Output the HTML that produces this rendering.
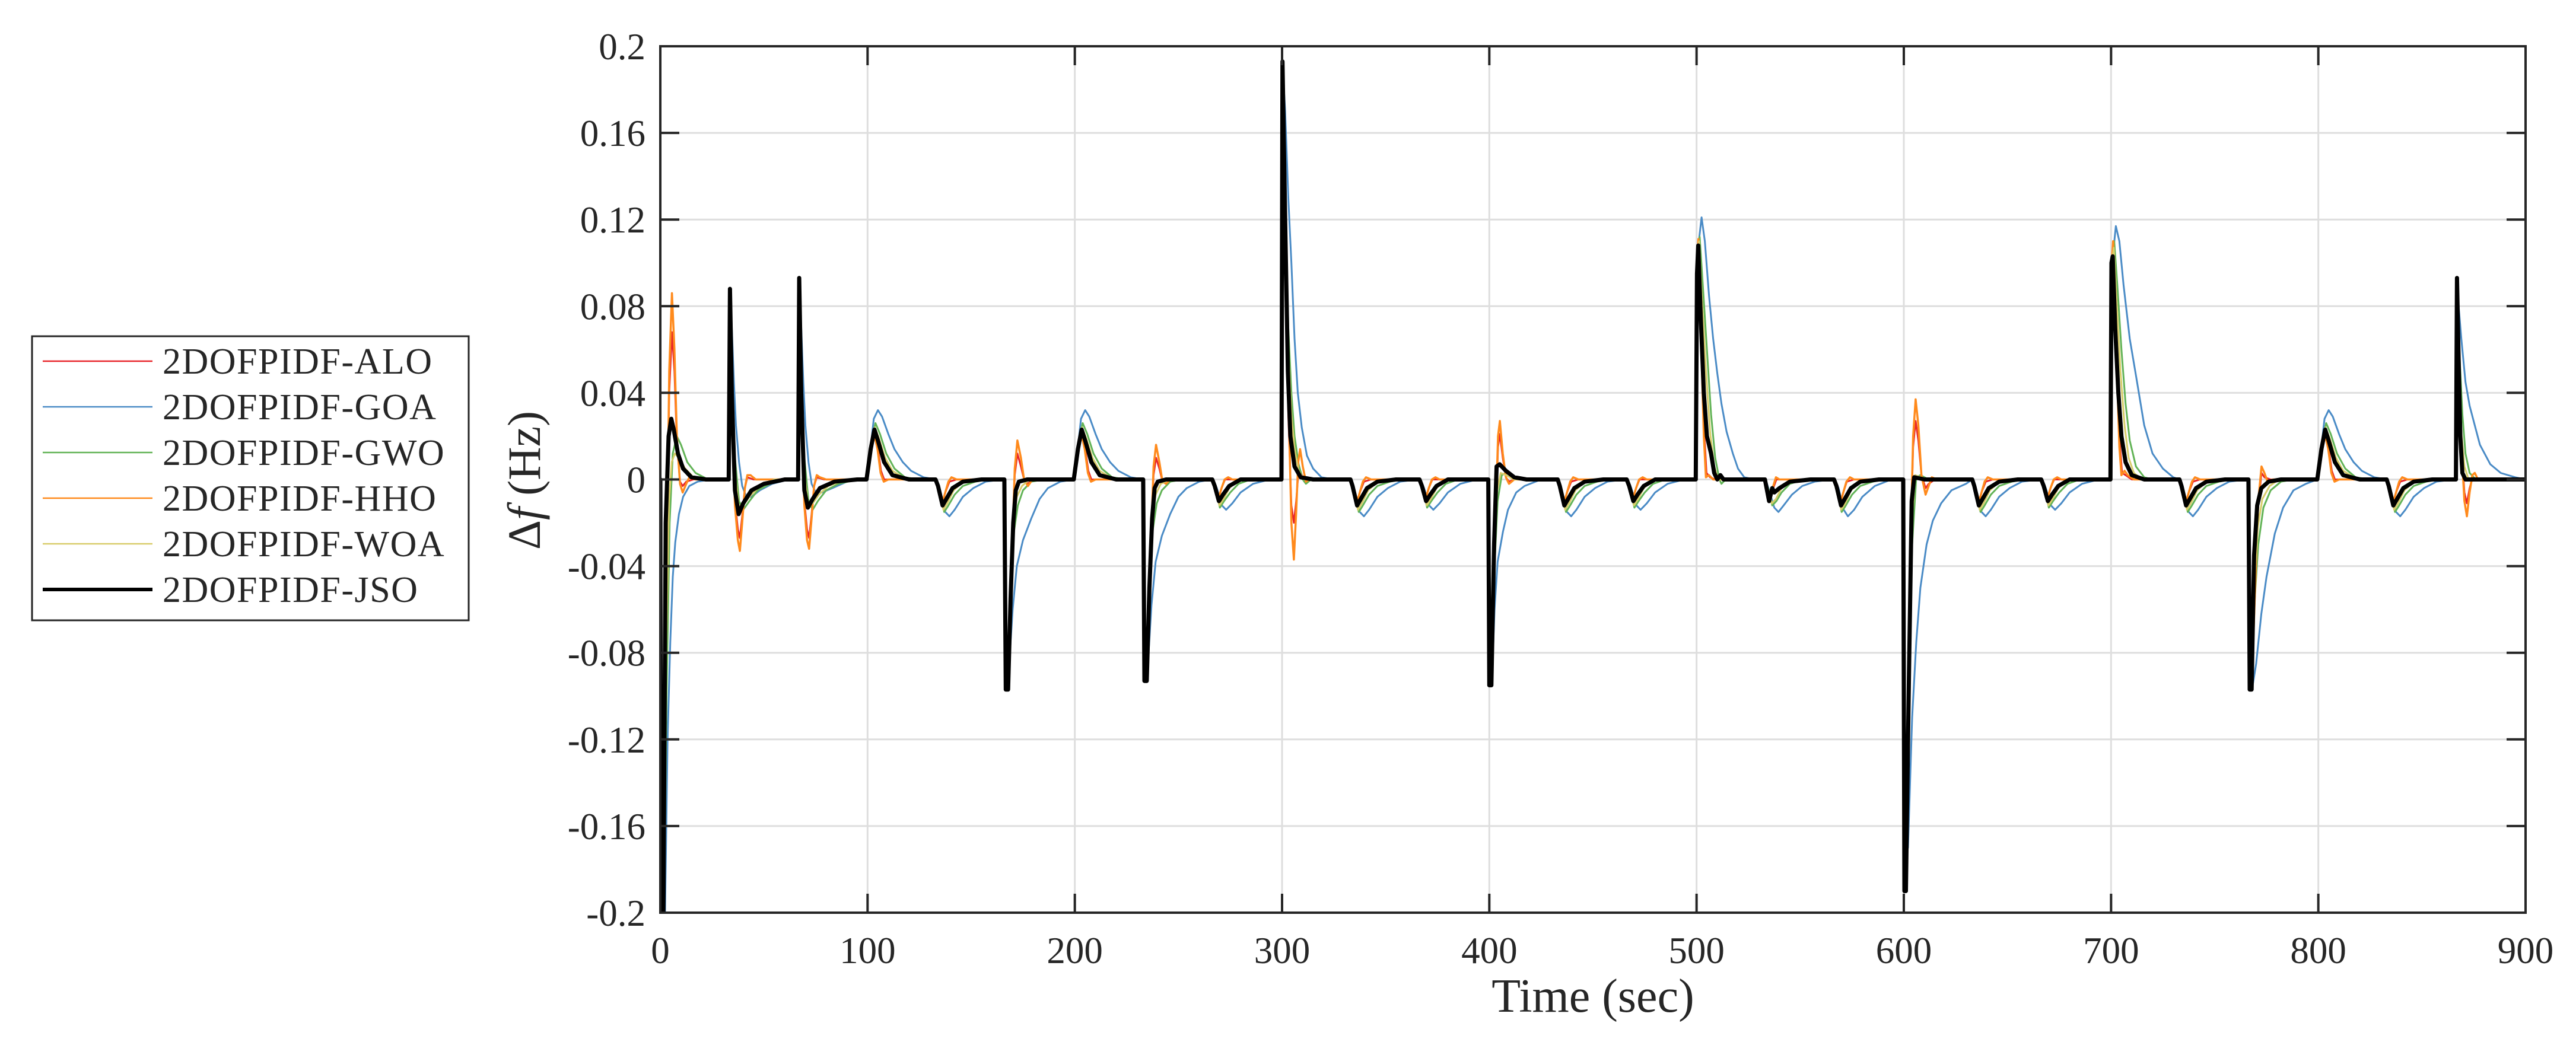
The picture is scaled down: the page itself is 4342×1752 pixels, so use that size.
<!DOCTYPE html>
<html>
<head>
<meta charset="utf-8">
<style>
  html,body{margin:0;padding:0;background:#fff;}
  svg{display:block;}
  text{font-family:"Liberation Serif","DejaVu Serif",serif;fill:#262626;}
</style>
</head>
<body>
<svg id="chart" xmlns="http://www.w3.org/2000/svg" width="4342" height="1752" viewBox="0 0 4342 1752">
  <rect x="0" y="0" width="4342" height="1752" fill="#fff"/>
  <defs><clipPath id="plotclip"><rect x="1113" y="78" width="3144" height="1461"/></clipPath></defs>
  <g id="grid"></g>
  <g id="series" clip-path="url(#plotclip)"></g>
  <g id="axes"></g>
  <text transform="translate(910,810) rotate(-90)" text-anchor="middle" font-size="78">Δ<tspan font-style="italic">f</tspan> (Hz)</text>
  <text x="2685" y="1706" text-anchor="middle" font-size="80">Time (sec)</text>
  <g>
    <rect x="54" y="567" width="736" height="479" fill="#fff" stroke="#262626" stroke-width="3"/>
    <g><line x1="72" y1="609" x2="257" y2="609" stroke="#E8262A" stroke-width="2.5"/><text x="274" y="630" font-size="62" letter-spacing="1.5">2DOFPIDF-ALO</text></g>
    <g><line x1="72" y1="686" x2="257" y2="686" stroke="#4A8BC6" stroke-width="2.5"/><text x="274" y="707" font-size="62" letter-spacing="1.5">2DOFPIDF-GOA</text></g>
    <g><line x1="72" y1="763" x2="257" y2="763" stroke="#62B356" stroke-width="2.5"/><text x="274" y="784" font-size="62" letter-spacing="1.5">2DOFPIDF-GWO</text></g>
    <g><line x1="72" y1="840" x2="257" y2="840" stroke="#FF8A1C" stroke-width="2.5"/><text x="274" y="861" font-size="62" letter-spacing="1.5">2DOFPIDF-HHO</text></g>
    <g><line x1="72" y1="917" x2="257" y2="917" stroke="#D8CC6A" stroke-width="2.5"/><text x="274" y="938" font-size="62" letter-spacing="1.5">2DOFPIDF-WOA</text></g>
    <g><line x1="72" y1="994" x2="257" y2="994" stroke="#000" stroke-width="6"/><text x="274" y="1015" font-size="62" letter-spacing="1.5">2DOFPIDF-JSO</text></g>
  </g>
</svg>
<script>
const xTicks = [0,100,200,300,400,500,600,700,800,900];
const yTicks = [0.2,0.16,0.12,0.08,0.04,0,-0.04,-0.08,-0.12,-0.16,-0.2];
const yTickLabels = ["0.2","0.16","0.12","0.08","0.04","0","-0.04","-0.08","-0.12","-0.16","-0.2"];
const seriesNames = ["ALO","GOA","GWO","HHO","WOA","JSO"];

const dataJSO = [[0,0],[0.3,-0.2],[1.5,-0.2],[2.6,-0.02],[4,0.02],[5.3,0.028],[6.5,0.023],[8.5,0.012],[11,0.005],[15,0.001],[22,0],
[33,0],[33.6,0.088],[34.5,0.04],[36,-0.005],[37.8,-0.016],[40,-0.011],[44,-0.005],[50,-0.002],[60,0],
[66.5,0],[67,0.093],[68,0.04],[69.5,-0.005],[71.2,-0.013],[73.5,-0.009],[77,-0.004],[84,-0.001],[95,0],
[99.5,0],[101.5,0.014],[103.3,0.023],[105,0.018],[108,0.008],[112,0.002],[120,0],
[132.8,0],[134,-0.003],[136.2,-0.012],[138,-0.009],[141,-0.004],[146,-0.001],[155,0],
[166,0],[166.7,-0.097],[167.8,-0.097],[169,-0.055],[170.3,-0.02],[171.5,-0.005],[173,-0.001],[177,0],
[199.5,0],[201.5,0.014],[203.3,0.023],[205,0.018],[208,0.008],[212,0.002],[220,0],
[233,0],[233.6,-0.093],[234.7,-0.093],[236,-0.05],[237.3,-0.018],[238.5,-0.004],[240,-0.001],[244,0],
[266.3,0],[267.5,-0.003],[269.5,-0.01],[271.5,-0.007],[274.5,-0.003],[280,0],
[299.7,0],[300.2,0.193],[301.5,0.12],[302.8,0.05],[304,0.02],[306,0.006],[309,0.001],[315,0],
[333,0],[334,-0.003],[336.2,-0.012],[338,-0.009],[341,-0.004],[346,-0.001],[355,0],
[366.3,0],[367.5,-0.003],[369.5,-0.01],[371.5,-0.007],[374.5,-0.003],[380,0],
[399.5,0],[400,-0.095],[401,-0.095],[402.3,-0.03],[403.5,0.006],[405,0.007],[408,0.004],[412,0.001],[418,0],
[433,0],[434,-0.003],[436.2,-0.012],[438,-0.009],[441,-0.004],[446,-0.001],[455,0],
[466.3,0],[467.5,-0.003],[469.5,-0.01],[471.5,-0.007],[474.5,-0.003],[480,0],
[499.6,0],[500.2,0.095],[500.8,0.108],[502,0.075],[503.5,0.04],[505,0.02],[507,0.012],[508.5,0.003],[510,0],[511.5,0.002],[513,0],
[533,0],[535,-0.01],[536.5,-0.004],[537.5,-0.006],[540,-0.004],[545,-0.001],[555,0],
[566.3,0],[567.5,-0.003],[569.7,-0.012],[571.5,-0.009],[574.5,-0.004],[579,-0.001],[588,0],
[599.7,0],[600.3,-0.19],[601,-0.19],[602.5,-0.09],[603.8,-0.01],[605,0.001],[610,0],
[633,0],[634,-0.003],[636.2,-0.012],[638,-0.009],[641,-0.004],[646,-0.001],[655,0],
[666.3,0],[667.5,-0.003],[669.5,-0.01],[671.5,-0.007],[674.5,-0.003],[680,0],
[699.7,0],[700.2,0.1],[700.8,0.103],[702,0.07],[703.5,0.04],[705,0.02],[707,0.008],[710,0.002],[716,0],
[733,0],[734,-0.003],[736.2,-0.012],[738,-0.009],[741,-0.004],[746,-0.001],[755,0],
[766.3,0],[766.9,-0.097],[767.8,-0.097],[769,-0.035],[770.5,-0.012],[772.5,-0.004],[776,-0.001],[782,0],
[799.5,0],[801.5,0.014],[803.3,0.023],[805,0.018],[808,0.008],[812,0.002],[820,0],
[833,0],[834,-0.003],[836.2,-0.012],[838,-0.009],[841,-0.004],[846,-0.001],[855,0],
[866.4,0],[866.9,0.093],[867.6,0.06],[868.5,0.02],[869.5,0.003],[871,0],[900,0]];

const dataGOA = [[0,0],[0.3,-0.2],[2.3,-0.2],[3.5,-0.12],[4.8,-0.075],[6,-0.045],[7.2,-0.029],[9,-0.016],[11,-0.008],[14,-0.003],[18,-0.001],[24,0],
[33,0],[33.7,0.088],[34.5,0.07],[35.5,0.045],[36.5,0.025],[38,0.008],[39.5,-0.003],[41.5,-0.008],[44,-0.008],[48,-0.005],[54,-0.002],[62,0],
[66.5,0],[67.1,0.093],[68,0.07],[69,0.045],[70,0.025],[71.5,0.008],[73,-0.002],[75,-0.006],[78,-0.006],[83,-0.004],[90,-0.001],[98,0],
[99.5,0],[101.5,0.015],[103,0.028],[105,0.032],[107,0.029],[110,0.021],[113,0.014],[117,0.008],[121,0.004],[127,0.001],[133,0],
[133.3,0],[135,-0.005],[137.5,-0.015],[139.5,-0.017],[142,-0.014],[146,-0.008],[151,-0.004],[157,-0.001],[165,0],
[166.1,0],[166.7,-0.09],[168,-0.09],[170,-0.06],[172,-0.04],[175,-0.028],[179,-0.018],[183,-0.009],[187,-0.004],[193,-0.001],[199.5,0],
[199.6,0],[201.5,0.015],[203,0.028],[205,0.032],[207,0.029],[210,0.021],[213,0.014],[217,0.008],[221,0.004],[227,0.001],[233,0],
[233.3,0],[233.9,-0.086],[235.2,-0.086],[237,-0.058],[239,-0.038],[242,-0.026],[246,-0.016],[250,-0.008],[254,-0.004],[260,-0.001],[266,0],
[266.7,0],[268.5,-0.004],[271,-0.012],[273,-0.014],[276,-0.011],[280,-0.006],[286,-0.002],[294,0],
[299.7,0],[300.3,0.19],[301.5,0.17],[303,0.13],[304.5,0.1],[306,0.065],[307.6,0.04],[309.5,0.024],[312,0.011],[315,0.005],[319,0.001],[325,0],
[333.3,0],[335,-0.005],[337.5,-0.015],[339.5,-0.017],[342,-0.014],[346,-0.008],[351,-0.004],[357,-0.001],[365,0],
[366.7,0],[368.5,-0.004],[371,-0.012],[373,-0.014],[376,-0.011],[380,-0.006],[386,-0.002],[394,0],
[399.7,0],[400.3,-0.095],[401.2,-0.095],[402.5,-0.06],[404,-0.038],[406.6,-0.024],[409,-0.014],[413,-0.006],[417,-0.003],[425,0],
[433.3,0],[435,-0.005],[437.5,-0.015],[439.5,-0.017],[442,-0.014],[446,-0.008],[451,-0.004],[457,-0.001],[465,0],
[466.7,0],[468.5,-0.004],[471,-0.012],[473,-0.014],[476,-0.011],[480,-0.006],[486,-0.002],[494,0],
[499.6,0],[500.5,0.105],[502.4,0.121],[504,0.11],[506,0.085],[508,0.065],[510,0.049],[512,0.035],[514.5,0.022],[517.5,0.012],[520,0.005],[523,0.001],[528,0],
[533.3,0],[535,-0.005],[537.5,-0.013],[539.5,-0.015],[542,-0.012],[546,-0.007],[551,-0.003],[557,-0.001],[565,0],
[566.7,0],[568.5,-0.004],[571,-0.014],[573,-0.017],[576,-0.014],[580,-0.008],[586,-0.003],[594,0],
[599.7,0],[600.3,-0.17],[602,-0.17],[604,-0.11],[606,-0.075],[608,-0.05],[611,-0.03],[614,-0.019],[618,-0.011],[623,-0.005],[630,-0.002],[633,0],
[633.3,0],[635,-0.005],[637.5,-0.015],[639.5,-0.017],[642,-0.014],[646,-0.008],[651,-0.004],[657,-0.001],[665,0],
[666.7,0],[668.5,-0.004],[671,-0.012],[673,-0.014],[676,-0.011],[680,-0.006],[686,-0.002],[694,0],
[699.7,0],[700.5,0.1],[702.3,0.117],[704,0.11],[706,0.09],[709,0.065],[712,0.048],[716,0.025],[720,0.012],[725,0.005],[730,0.001],[733,0],
[733.3,0],[735,-0.005],[737.5,-0.015],[739.5,-0.017],[742,-0.014],[746,-0.008],[751,-0.004],[757,-0.001],[765,0],
[766.3,0],[767,-0.09],[768,-0.097],[770,-0.085],[772.5,-0.062],[775,-0.045],[779,-0.025],[783,-0.013],[788,-0.005],[794,-0.002],[799.5,0],
[799.6,0],[801.5,0.015],[803,0.028],[805,0.032],[807,0.029],[810,0.021],[813,0.014],[817,0.008],[821,0.004],[827,0.001],[833,0],
[833.3,0],[835,-0.005],[837.5,-0.015],[839.5,-0.017],[842,-0.014],[846,-0.008],[851,-0.004],[857,-0.001],[865,0],
[866.4,0],[867,0.088],[869,0.065],[871,0.045],[873,0.034],[875.2,0.026],[878,0.016],[883,0.007],[888,0.003],[895,0.001],[900,0]];

const dataGWO = [[0,0],[0.3,-0.2],[1.8,-0.2],[3,-0.1],[4.5,-0.02],[6,0.012],[8,0.02],[10,0.016],[13,0.008],[17,0.003],[23,0],
[33,0],[33.6,0.088],[34.5,0.05],[36,0.01],[38,-0.01],[40,-0.014],[43,-0.01],[47,-0.005],[53,-0.002],[60,0],
[66.5,0],[67,0.093],[68,0.05],[69.5,0.01],[71.5,-0.01],[73.5,-0.014],[76,-0.01],[80,-0.005],[86,-0.002],[95,0],
[99.5,0],[101.7,0.017],[103.8,0.026],[106,0.021],[109,0.012],[113,0.005],[118,0.001],[125,0],
[133,0],[134.5,-0.004],[137,-0.015],[139,-0.012],[142,-0.007],[146,-0.003],[152,-0.001],[158,0],
[166,0],[166.7,-0.097],[167.7,-0.097],[169,-0.05],[170.5,-0.025],[172.5,-0.012],[175,-0.005],[179,-0.001],[185,0],
[199.5,0],[201.7,0.017],[203.8,0.026],[206,0.021],[209,0.012],[213,0.005],[218,0.001],[225,0],
[233,0],[233.6,-0.093],[234.6,-0.093],[236,-0.048],[237.5,-0.024],[239.5,-0.011],[242,-0.005],[246,-0.001],[252,0],
[266.3,0],[267.8,-0.004],[270,-0.013],[272,-0.01],[275,-0.006],[279,-0.002],[285,0],
[299.7,0],[300.2,0.193],[301.5,0.13],[303,0.07],[304.5,0.04],[306,0.02],[308,0.007],[310,0],[311.5,-0.002],[314,0],
[333,0],[334.5,-0.004],[337,-0.015],[339,-0.012],[342,-0.007],[346,-0.003],[352,-0.001],[358,0],
[366.3,0],[367.8,-0.004],[370,-0.013],[372,-0.01],[375,-0.006],[379,-0.002],[385,0],
[399.7,0],[400.2,-0.095],[401,-0.095],[402.5,-0.04],[404,-0.01],[406,0.002],[408,0.003],[412,0.001],[418,0],
[433,0],[434.5,-0.004],[437,-0.015],[439,-0.012],[442,-0.007],[446,-0.003],[452,-0.001],[458,0],
[466.3,0],[467.8,-0.004],[470,-0.013],[472,-0.01],[475,-0.006],[479,-0.002],[485,0],
[499.6,0],[500.3,0.1],[501.5,0.112],[503,0.09],[505,0.06],[507,0.03],[509,0.01],[511,0],[512,-0.002],[514,0],
[533,0],[534.5,-0.004],[536.5,-0.012],[538.5,-0.01],[541,-0.006],[545,-0.002],[552,0],
[566.3,0],[567.8,-0.004],[570,-0.015],[572,-0.012],[575,-0.007],[579,-0.003],[585,-0.001],[590,0],
[599.7,0],[600.3,-0.19],[601.2,-0.19],[602.5,-0.09],[604,-0.03],[606,0.001],[608,0.002],[612,0],
[633,0],[634.5,-0.004],[637,-0.015],[639,-0.012],[642,-0.007],[646,-0.003],[652,-0.001],[658,0],
[666.3,0],[667.8,-0.004],[670,-0.013],[672,-0.01],[675,-0.006],[679,-0.002],[685,0],
[699.7,0],[700.4,0.1],[701.5,0.11],[703,0.09],[705,0.06],[707,0.035],[709,0.018],[712,0.006],[716,0.001],[720,0],
[733,0],[734.5,-0.004],[737,-0.015],[739,-0.012],[742,-0.007],[746,-0.003],[752,-0.001],[758,0],
[766.3,0],[766.9,-0.097],[767.8,-0.097],[769,-0.06],[771,-0.03],[773.5,-0.013],[777,-0.005],[782,-0.001],[788,0],
[799.5,0],[801.7,0.017],[803.8,0.026],[806,0.021],[809,0.012],[813,0.005],[818,0.001],[825,0],
[833,0],[834.5,-0.004],[837,-0.015],[839,-0.012],[842,-0.007],[846,-0.003],[852,-0.001],[858,0],
[866.4,0],[866.9,0.093],[868,0.06],[869.5,0.03],[871,0.012],[873,0.003],[876,0],[900,0]];

const dataWOA = [[0,0],[0.3,-0.2],[1.6,-0.2],[2.8,-0.08],[4.2,-0.01],[5.5,0.008],[7,0.012],[9,0.01],[12,0.005],[16,0.001],[22,0],
[33,0],[33.6,0.088],[34.5,0.045],[36,0.003],[37.8,-0.012],[40,-0.012],[43,-0.008],[48,-0.003],[55,0],
[66.5,0],[67,0.093],[68,0.045],[69.5,0.003],[71.3,-0.012],[73.5,-0.011],[76.5,-0.007],[81,-0.003],[90,0],
[99.5,0],[101.6,0.016],[103.5,0.024],[105.5,0.019],[108.5,0.01],[112,0.004],[117,0.001],[123,0],
[133,0],[134.3,-0.004],[136.6,-0.014],[138.5,-0.011],[141.5,-0.005],[145,-0.002],[151,0],
[166,0],[166.7,-0.097],[167.7,-0.097],[169,-0.05],[170.4,-0.02],[172,-0.008],[174.5,-0.003],[178,0],
[199.5,0],[201.6,0.016],[203.5,0.024],[205.5,0.019],[208.5,0.01],[212,0.004],[217,0.001],[223,0],
[233,0],[233.6,-0.093],[234.6,-0.093],[236,-0.045],[237.4,-0.018],[239,-0.007],[241.5,-0.002],[246,0],
[266.3,0],[267.6,-0.004],[269.8,-0.012],[271.8,-0.009],[274.5,-0.004],[278,-0.001],[283,0],
[299.7,0],[300.2,0.193],[301.5,0.125],[303,0.06],[304.5,0.03],[306,0.014],[308,0.004],[310.5,0],[315,0],
[333,0],[334.3,-0.004],[336.6,-0.014],[338.5,-0.011],[341.5,-0.005],[345,-0.002],[351,0],
[366.3,0],[367.6,-0.004],[369.8,-0.012],[371.8,-0.009],[374.5,-0.004],[378,-0.001],[383,0],
[399.7,0],[400.2,-0.095],[401,-0.095],[402.4,-0.035],[403.8,-0.005],[405.5,0.003],[408,0.002],[412,0],
[433,0],[434.3,-0.004],[436.6,-0.014],[438.5,-0.011],[441.5,-0.005],[445,-0.002],[451,0],
[466.3,0],[467.6,-0.004],[469.8,-0.012],[471.8,-0.009],[474.5,-0.004],[478,-0.001],[483,0],
[499.6,0],[500.3,0.1],[501.2,0.11],[502.5,0.085],[504.5,0.05],[506.5,0.022],[508.5,0.006],[510.5,0],[514,0],
[533,0],[534.3,-0.004],[536.3,-0.011],[538.3,-0.009],[541,-0.004],[545,-0.001],[550,0],
[566.3,0],[567.6,-0.004],[569.8,-0.014],[571.8,-0.011],[574.5,-0.005],[578,-0.002],[584,0],
[599.7,0],[600.3,-0.19],[601.1,-0.19],[602.5,-0.08],[603.8,-0.02],[605.5,0.002],[608,0.001],[612,0],
[633,0],[634.3,-0.004],[636.6,-0.014],[638.5,-0.011],[641.5,-0.005],[645,-0.002],[651,0],
[666.3,0],[667.6,-0.004],[669.8,-0.012],[671.8,-0.009],[674.5,-0.004],[678,-0.001],[683,0],
[699.7,0],[700.3,0.1],[701.3,0.107],[702.8,0.08],[704.5,0.05],[706.5,0.025],[708.5,0.01],[711,0.003],[715,0],
[733,0],[734.3,-0.004],[736.6,-0.014],[738.5,-0.011],[741.5,-0.005],[745,-0.002],[751,0],
[766.3,0],[766.9,-0.097],[767.8,-0.097],[769,-0.05],[770.8,-0.022],[773,-0.009],[776.5,-0.003],[781,0],
[799.5,0],[801.6,0.016],[803.5,0.024],[805.5,0.019],[808.5,0.01],[812,0.004],[817,0.001],[823,0],
[833,0],[834.3,-0.004],[836.6,-0.014],[838.5,-0.011],[841.5,-0.005],[845,-0.002],[851,0],
[866.4,0],[866.9,0.093],[867.8,0.055],[869,0.022],[870.5,0.006],[872.5,0],[900,0]];

const dataHHO = [[0,0],[0.3,-0.2],[1.5,-0.2],[3,-0.05],[4.3,0.05],[5.6,0.086],[6.8,0.06],[8,0.02],[9.5,-0.002],[10.8,-0.006],[12.5,-0.002],[14,0.001],[17,0],
[33,0],[33.6,0.088],[34.6,0.03],[36,-0.012],[37.4,-0.028],[38.4,-0.033],[39.5,-0.02],[40.8,-0.004],[42,0.002],[43.5,0.002],[46,0],
[66.5,0],[67,0.093],[68,0.03],[69.5,-0.012],[70.8,-0.028],[71.8,-0.032],[73,-0.018],[74.2,-0.003],[75.5,0.002],[77,0.001],[80,0],
[99.5,0],[101.8,0.013],[103.2,0.021],[104.8,0.014],[106.3,0.003],[107.8,-0.001],[110,0],
[133,0],[134.2,-0.004],[136,-0.011],[137.5,-0.006],[139,-0.001],[140.5,0.001],[143,0],
[166,0],[166.6,-0.097],[167.6,-0.097],[169.5,-0.04],[171,0.005],[172.3,0.018],[174,0.01],[175.5,0],[177.4,-0.003],[179.5,0],
[199.5,0],[201.8,0.013],[203.2,0.021],[204.8,0.014],[206.3,0.003],[207.8,-0.001],[210,0],
[233,0],[233.6,-0.093],[234.6,-0.093],[236.5,-0.035],[238,0.006],[239.2,0.016],[240.8,0.008],[242.3,-0.001],[244,-0.002],[246,0],
[266.3,0],[267.5,-0.003],[269.2,-0.009],[270.8,-0.004],[272.3,0],[274,0.001],[276,0],
[299.7,0],[300.2,0.193],[301.5,0.12],[303,0.04],[304.5,-0.02],[305.7,-0.037],[306.8,-0.015],[307.8,0.008],[308.7,0.014],[310,0.006],[311.5,-0.001],[313,0],
[333,0],[334.2,-0.004],[336,-0.011],[337.5,-0.006],[339,-0.001],[340.5,0.001],[343,0],
[366.3,0],[367.5,-0.003],[369.2,-0.009],[370.8,-0.004],[372.3,0],[374,0.001],[376,0],
[399.7,0],[400.2,-0.095],[401.2,-0.095],[403,-0.02],[404.2,0.02],[405.1,0.027],[406.5,0.012],[408,0.001],[409.5,-0.002],[412,0],
[433,0],[434.2,-0.004],[436,-0.011],[437.5,-0.006],[439,-0.001],[440.5,0.001],[443,0],
[466.3,0],[467.5,-0.003],[469.2,-0.009],[470.8,-0.004],[472.3,0],[474,0.001],[476,0],
[499.6,0],[500.3,0.1],[500.9,0.111],[502,0.07],[503.5,0.02],[504.5,0.001],[506,0.002],[508,0],
[533,0],[534.2,-0.004],[535.8,-0.009],[537,-0.003],[538.3,0.001],[540,0],
[566.3,0],[567.5,-0.004],[569.3,-0.011],[570.8,-0.006],[572.3,-0.001],[574,0.001],[576,0],
[599.7,0],[600.3,-0.19],[601.2,-0.19],[602,-0.1],[603.5,-0.02],[604.5,0.02],[605.7,0.037],[607,0.025],[608.5,0.002],[610.5,-0.007],[612,-0.003],[613.5,0.001],[616,0],
[633,0],[634.2,-0.004],[636,-0.011],[637.5,-0.006],[639,-0.001],[640.5,0.001],[643,0],
[666.3,0],[667.5,-0.003],[669.2,-0.009],[670.8,-0.004],[672.3,0],[674,0.001],[676,0],
[699.7,0],[700.3,0.1],[701,0.11],[702.5,0.06],[704,0.015],[705,0.002],[706.5,0.004],[708,0.002],[711,0],
[733,0],[734.2,-0.004],[736,-0.011],[737.5,-0.006],[739,-0.001],[740.5,0.001],[743,0],
[766.3,0],[766.9,-0.097],[767.8,-0.097],[769.5,-0.05],[771,-0.01],[772.6,0.006],[774,0.003],[775.5,-0.001],[778,0],
[799.5,0],[801.8,0.013],[803.2,0.021],[804.8,0.014],[806.3,0.003],[807.8,-0.001],[810,0],
[833,0],[834.2,-0.004],[836,-0.011],[837.5,-0.006],[839,-0.001],[840.5,0.001],[843,0],
[866.4,0],[866.9,0.093],[868,0.05],[869.3,0.01],[870.5,-0.01],[871.7,-0.017],[873,-0.006],[874.3,0.002],[875.5,0.003],[877,0],[900,0]];

const dataALO = [[0,0],[0.3,-0.2],[1.5,-0.2],[3,-0.05],[4.3,0.04],[5.6,0.068],[6.8,0.05],[8,0.017],[9.5,-0.001],[10.8,-0.003],[12.5,-0.001],[16,0],
[33,0],[33.6,0.088],[34.6,0.03],[36,-0.01],[37.4,-0.023],[38.4,-0.027],[39.5,-0.017],[40.8,-0.004],[42,0.001],[45,0],
[66.5,0],[67,0.093],[68,0.03],[69.5,-0.01],[70.8,-0.023],[71.8,-0.027],[73,-0.016],[74.2,-0.003],[75.5,0.001],[79,0],
[99.5,0],[101.8,0.013],[103.3,0.021],[104.9,0.015],[106.5,0.004],[108,0],[110,0],
[133,0],[134.2,-0.004],[136,-0.011],[137.5,-0.006],[139.5,-0.001],[143,0],
[166,0],[166.6,-0.097],[167.6,-0.097],[169.5,-0.04],[171,0.002],[172.3,0.012],[174,0.006],[175.5,0],[177.4,-0.002],[179.5,0],
[199.5,0],[201.8,0.013],[203.3,0.021],[204.9,0.015],[206.5,0.004],[208,0],[210,0],
[233,0],[233.6,-0.093],[234.6,-0.093],[236.5,-0.035],[238,0.002],[239.2,0.01],[240.8,0.005],[242.3,-0.001],[245,0],
[266.3,0],[267.5,-0.003],[269.2,-0.009],[270.8,-0.004],[272.5,0],[276,0],
[299.7,0],[300.2,0.193],[301.5,0.11],[303,0.03],[304.5,-0.012],[305.7,-0.02],[306.8,-0.01],[307.8,0.002],[308.7,0.004],[310,0.001],[313,0],
[333,0],[334.2,-0.004],[336,-0.011],[337.5,-0.006],[339.5,-0.001],[343,0],
[366.3,0],[367.5,-0.003],[369.2,-0.009],[370.8,-0.004],[372.5,0],[376,0],
[399.7,0],[400.2,-0.095],[401.2,-0.095],[403,-0.02],[404.2,0.015],[405.1,0.021],[406.5,0.01],[408,0.001],[409.5,-0.001],[412,0],
[433,0],[434.2,-0.004],[436,-0.011],[437.5,-0.006],[439.5,-0.001],[443,0],
[466.3,0],[467.5,-0.003],[469.2,-0.009],[470.8,-0.004],[472.5,0],[476,0],
[499.6,0],[500.3,0.1],[500.9,0.11],[502,0.075],[503.5,0.025],[504.8,0.003],[506.5,0.001],[509,0],
[533,0],[534.2,-0.004],[535.8,-0.009],[537,-0.004],[538.5,0],[540,0],
[566.3,0],[567.5,-0.004],[569.3,-0.011],[570.8,-0.006],[572.5,-0.001],[576,0],
[599.7,0],[600.3,-0.19],[601.2,-0.19],[602,-0.1],[603.5,-0.02],[604.5,0.015],[605.7,0.027],[607,0.018],[608.5,0.002],[610.5,-0.004],[612,-0.002],[615,0],
[633,0],[634.2,-0.004],[636,-0.011],[637.5,-0.006],[639.5,-0.001],[643,0],
[666.3,0],[667.5,-0.003],[669.2,-0.009],[670.8,-0.004],[672.5,0],[676,0],
[699.7,0],[700.3,0.1],[701,0.108],[702.5,0.065],[704,0.02],[705.3,0.003],[707,0.002],[710,0],
[733,0],[734.2,-0.004],[736,-0.011],[737.5,-0.006],[739.5,-0.001],[743,0],
[766.3,0],[766.9,-0.097],[767.8,-0.097],[769.5,-0.05],[771,-0.012],[772.6,0.003],[774,0.001],[777,0],
[799.5,0],[801.8,0.013],[803.3,0.021],[804.9,0.015],[806.5,0.004],[808,0],[810,0],
[833,0],[834.2,-0.004],[836,-0.011],[837.5,-0.006],[839.5,-0.001],[843,0],
[866.4,0],[866.9,0.093],[868,0.05],[869.3,0.012],[870.5,-0.006],[871.7,-0.011],[873,-0.004],[874.5,0.001],[877,0],[900,0]];

const NS = "http://www.w3.org/2000/svg";
const L = 1113, R = 4257, T = 78, B = 1539;
const xMin = 0, xMax = 900, yMin = -0.2, yMax = 0.2;
function xScale(t){ return L + (t - xMin) / (xMax - xMin) * (R - L); }
function yScale(v){ return B - (v - yMin) / (yMax - yMin) * (B - T); }
function mk(tag, attrs, parent){
  const e = document.createElementNS(NS, tag);
  for (const k in attrs) e.setAttribute(k, attrs[k]);
  parent.appendChild(e);
  return e;
}
const grid = document.getElementById('grid');
const axes = document.getElementById('axes');
const seriesG = document.getElementById('series');

xTicks.forEach(function(t){
  const x = xScale(t);
  const gl = mk('line', {x1:x, y1:T, x2:x, y2:B, stroke:'#dedede', 'stroke-width':3}, grid);
  
  
  const tk1 = mk('line', {x1:x, y1:B, x2:x, y2:B-32, stroke:'#262626', 'stroke-width':4}, axes);
  
  
  const tk2 = mk('line', {x1:x, y1:T, x2:x, y2:T+32, stroke:'#262626', 'stroke-width':4}, axes);
  
  
  const lb = mk('text', {x:x, y:1624, 'text-anchor':'middle', 'font-size':63}, axes);
  lb.textContent = String(t);
  
  
});
yTicks.forEach(function(v, i){
  const y = yScale(v);
  const gl = mk('line', {x1:L, y1:y, x2:R, y2:y, stroke:'#dedede', 'stroke-width':3}, grid);
  
  
  const tk1 = mk('line', {x1:L, y1:y, x2:L+32, y2:y, stroke:'#262626', 'stroke-width':4}, axes);
  
  
  const tk2 = mk('line', {x1:R, y1:y, x2:R-32, y2:y, stroke:'#262626', 'stroke-width':4}, axes);
  
  
  const lb = mk('text', {x:1088, y:y+22, 'text-anchor':'end', 'font-size':63}, axes);
  lb.textContent = yTickLabels[i];
  
  
});
const box = mk('rect', {x:L, y:T, width:R-L, height:B-T, fill:'none', stroke:'#262626', 'stroke-width':4}, axes);



const seriesData = [dataALO, dataGOA, dataGWO, dataHHO, dataWOA, dataJSO];
const seriesColors = ['#E8262A', '#4A8BC6', '#62B356', '#FF8A1C', '#D8CC6A', '#000000'];
const seriesWidths = [3, 3, 3, 3.5, 3, 7];
seriesData.forEach(function(d, i){
  const pts = d.map(function(p){ return xScale(p[0]).toFixed(1) + ',' + yScale(p[1]).toFixed(1); }).join(' ');
  const pl = mk('polyline', {points:pts, fill:'none', stroke:seriesColors[i], 'stroke-width':seriesWidths[i], 'stroke-linejoin':'round', 'stroke-linecap':'round'}, seriesG);
  
  
});
</script>
</body>
</html>
